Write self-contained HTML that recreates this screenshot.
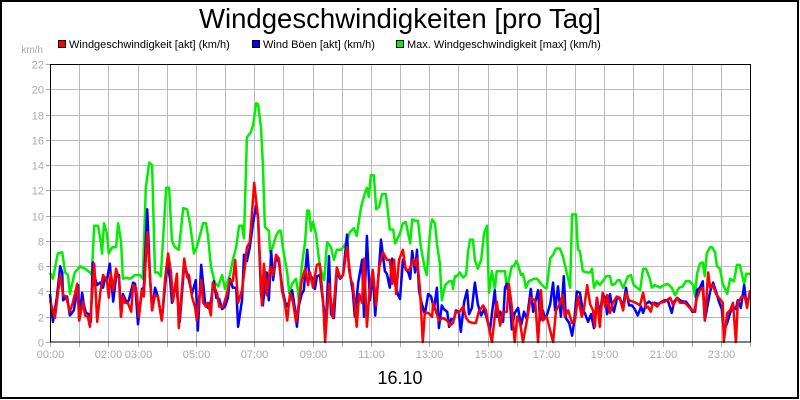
<!DOCTYPE html>
<html><head><meta charset="utf-8"><style>
html,body{margin:0;padding:0;background:#fff}
svg{display:block;font-family:"Liberation Sans",sans-serif}
</style></head><body>
<svg id="chart" width="800" height="400" viewBox="0 0 800 400" xmlns="http://www.w3.org/2000/svg">
<rect x="1" y="1" width="797" height="397" fill="#fff" stroke="#000" stroke-width="2"/>
<text x="400" y="28" text-anchor="middle" font-size="28" textLength="402" lengthAdjust="spacingAndGlyphs" fill="#000">Windgeschwindigkeiten [pro Tag]</text>
<g font-size="11">
 <g><rect x="58.5" y="40.5" width="7" height="7" fill="#f00" stroke="#000"/><text x="69" y="48" fill="#000">Windgeschwindigkeit [akt] (km/h)</text></g>
 <g><rect x="252.5" y="40.5" width="7" height="7" fill="#00f" stroke="#000"/><text x="263" y="48" fill="#000">Wind Böen [akt] (km/h)</text></g>
 <g><rect x="396.5" y="40.5" width="7" height="7" fill="#0e0" stroke="#000"/><text x="407" y="48" fill="#000">Max. Windgeschwindigkeit [max] (km/h)</text></g>
</g>
<text x="43" y="53" text-anchor="end" font-size="10" fill="#aaa">km/h</text>
<g id="grid"></g>
<g id="yaxis"></g>
<g id="xaxis"></g>
<g id="series"></g>
<rect x="50.5" y="64.5" width="700" height="277.5" fill="none" stroke="#000" stroke-width="1"/>
<text x="400" y="384" text-anchor="middle" font-size="18" fill="#000">16.10</text>
</svg>
<script>
const yTicks = [0,2,4,6,8,10,12,14,16,18,20,22];
const xTickLabels = ["00:00","","02:00","03:00","","05:00","","07:00","","09:00","","11:00","","13:00","","15:00","","17:00","","19:00","","21:00","","23:00",""];
const maxTimes = [0,6,16,25,31,37,41,51,62,72,82,86,91,99,105,107,111,117,121,128,136,140,146,150,156,165,175,185,191,197,204,210,216,222,228,239,245,251,257,265,274,282,288,296,302,315,321,325,331,339,346,354,360,370,376,383,389,395,399,405,413,418,424,428,434,438,442,450,453,457,465,471,475,479,488,492,498,506,510,512,518,525,529,533,537,541,547,555,564,570,578,584,590,599,605,611,617,625,631,640,648,652,656,660,666,671,677,683,691,695,699,706,710,720,726,732,741,745,751,757,763,771,775,782,786,792,796,802,806,813,821,827,829,833,837,843,850,856,860,864,870,874,880,887,893,899,903,909,915,919,936,940,946,950,954,959,963,969,973,979,985,996,1002,1010,1018,1022,1029,1035,1041,1049,1055,1066,1070,1074,1082,1086,1090,1096,1105,1111,1115,1119,1125,1131,1144,1152,1156,1162,1168,1172,1179,1189,1195,1201,1214,1220,1226,1234,1238,1244,1255,1263,1271,1279,1286,1294,1302,1308,1316,1323,1327,1331,1337,1343,1347,1351,1358,1362,1368,1372,1378,1384,1393,1399,1407,1413,1419,1428,1432,1440];
const maxValues = [5.5,5.0,7.0,7.1,5.5,5.3,3.8,5.5,6.0,5.8,5.5,5.3,9.2,9.2,7.8,7.0,9.4,8.6,7.0,7.5,7.5,9.4,8.0,5.0,5.1,5.0,5.3,5.3,5.0,12.2,14.2,14.0,5.5,5.5,5.2,12.2,12.2,8.0,7.5,7.3,10.6,10.5,9.4,7.0,7.5,9.4,9.4,8.4,6.0,4.7,4.4,5.3,4.2,5.3,6.5,7.5,9.2,9.2,8.2,16.2,16.6,17.2,18.9,18.8,17.0,14.0,9.1,8.8,7.1,7.4,8.4,8.8,8.8,7.5,5.5,3.9,4.6,5.0,4.1,3.2,6.0,8.0,10.4,10.4,8.8,9.5,8.6,6.0,4.9,7.9,7.5,6.5,7.3,7.3,7.6,8.0,8.7,9.0,8.4,10.7,11.8,12.2,11.5,13.2,13.2,10.5,10.7,11.7,11.7,10.4,8.9,8.9,7.8,8.6,9.4,9.5,7.8,9.7,9.6,9.6,7.5,5.8,5.3,8.8,9.7,9.4,7.8,6.2,3.3,4.5,4.8,4.8,4.2,5.2,5.2,5.5,5.1,5.3,7.2,8.1,8.1,6.5,5.8,6.5,8.6,9.2,3.9,5.6,4.2,5.6,5.6,4.2,5.3,6.0,6.0,6.4,6.1,5.3,5.4,4.3,4.8,5.0,5.0,4.6,4.3,4.3,6.6,6.9,7.4,7.4,6.8,5.0,4.3,10.1,10.1,7.3,7.2,5.6,5.5,5.5,5.8,4.3,4.8,4.5,5.2,5.2,4.5,4.6,4.9,4.9,4.3,5.2,5.3,4.5,4.1,5.8,5.8,5.0,4.3,4.5,4.3,4.5,4.6,4.3,3.7,4.3,4.4,4.8,4.8,4.5,3.6,5.4,6.2,6.3,5.2,7.0,7.5,7.5,7.1,6.0,5.8,4.6,3.8,5.0,4.8,6.1,6.1,4.6,5.4,5.4];
const gustTimes = [0,6,14,21,25,27,35,41,49,58,60,66,70,74,80,84,88,93,97,103,109,113,117,123,130,136,142,146,150,158,162,171,175,181,189,193,200,206,210,216,222,230,237,241,247,251,259,267,276,284,292,300,304,311,319,325,331,337,342,348,354,360,366,370,376,383,387,395,399,405,411,418,424,428,434,438,442,446,450,455,459,465,471,479,486,492,498,504,508,512,518,522,529,533,539,545,549,555,564,568,574,578,584,590,597,603,611,615,623,627,634,642,646,652,658,664,669,677,681,689,693,699,704,710,716,720,726,730,737,741,745,751,755,759,763,771,778,784,790,796,800,806,810,817,821,825,831,835,841,845,852,858,862,868,874,880,887,893,899,905,915,919,926,932,936,940,946,950,956,963,969,975,981,989,994,998,1004,1008,1014,1018,1022,1029,1035,1039,1045,1051,1057,1061,1068,1074,1078,1084,1090,1096,1100,1107,1113,1119,1125,1131,1137,1142,1146,1152,1156,1160,1166,1172,1179,1185,1191,1197,1203,1209,1216,1220,1226,1232,1238,1244,1251,1259,1265,1271,1279,1284,1290,1296,1302,1308,1316,1321,1327,1331,1337,1343,1347,1358,1364,1370,1376,1382,1386,1393,1399,1405,1411,1415,1421,1428,1432,1438];
const gustValues = [3.8,1.6,3.5,6.0,5.5,3.3,3.6,2.1,2.5,4.5,1.7,3.9,2.9,2.3,2.2,1.6,6.3,5.0,4.5,4.7,4.3,5.0,4.9,6.2,3.2,5.2,5.3,2.0,3.8,3.1,3.3,4.7,4.6,1.4,4.2,4.3,10.5,5.0,2.5,4.3,3.6,1.7,4.5,6.2,5.0,3.1,4.8,1.6,6.1,5.2,3.8,4.9,0.9,6.1,3.1,2.7,3.2,4.8,3.5,3.4,2.6,2.8,3.5,5.0,4.3,4.3,1.2,3.3,6.9,6.4,7.5,9.5,10.8,9.8,3.8,2.9,4.5,5.5,3.3,7.2,4.9,6.7,6.3,4.0,2.8,3.2,4.1,2.6,1.2,2.9,3.8,4.1,7.3,5.3,5.1,4.2,5.2,5.3,2.4,1.7,6.8,2.2,1.9,5.5,5.0,5.3,8.5,5.8,4.0,2.0,4.7,6.5,2.0,8.4,3.3,5.5,2.1,5.9,8.1,5.6,5.4,4.3,6.6,4.6,3.7,3.4,6.5,5.9,5.5,5.0,7.2,5.5,7.3,4.1,3.3,2.2,3.8,3.6,2.6,4.3,1.1,2.9,2.6,2.4,1.2,1.8,1.8,2.5,2.4,0.8,3.2,4.1,2.2,2.7,4.7,3.0,2.1,2.6,1.8,0.9,4.1,2.0,2.4,1.6,4.3,4.6,3.4,1.0,2.3,2.7,1.3,2.4,1.8,4.2,2.4,3.1,4.1,1.7,2.5,1.9,2.1,3.0,4.7,2.5,4.4,2.0,5.2,1.9,1.5,0.5,1.5,4.0,3.9,2.5,2.3,1.6,2.2,1.1,3.5,2.2,3.8,3.5,2.2,3.8,2.9,2.4,3.4,3.5,2.8,4.3,2.9,2.9,2.6,2.1,2.8,2.3,3.0,3.2,3.0,3.1,3.0,3.2,3.3,3.3,2.3,3.2,3.5,3.3,3.2,3.2,2.8,2.4,2.4,4.1,4.3,4.8,1.7,4.0,4.7,4.0,3.2,2.6,0.9,1.5,2.3,2.8,2.6,3.3,2.7,4.5,3.2,3.5];
const speedTimes = [0,10,21,27,33,41,47,56,60,68,72,78,82,91,97,103,109,117,121,125,130,136,142,146,150,154,160,167,171,177,183,189,193,200,206,210,216,222,230,237,243,249,253,261,265,272,276,282,286,292,298,302,311,315,321,325,331,335,344,348,356,364,370,376,381,387,395,401,405,411,420,428,436,440,446,453,459,465,471,477,483,488,494,500,506,510,518,525,531,535,541,549,555,562,566,574,582,590,597,603,611,619,623,631,636,642,646,652,658,664,671,677,685,693,699,704,708,712,718,726,732,739,747,751,755,761,767,771,778,786,788,794,800,808,817,823,829,835,841,850,856,862,870,876,882,891,897,901,909,915,919,926,932,940,944,950,956,961,967,973,981,989,998,1004,1010,1014,1022,1029,1035,1041,1047,1055,1059,1066,1074,1080,1086,1094,1098,1105,1111,1117,1121,1125,1131,1137,1142,1146,1152,1158,1166,1172,1179,1185,1191,1199,1205,1214,1220,1226,1230,1236,1240,1249,1255,1265,1276,1282,1290,1296,1306,1316,1325,1331,1337,1343,1347,1354,1358,1364,1370,1376,1384,1386,1393,1399,1405,1411,1415,1423,1430,1434,1440];
const speedValues = [3.3,1.9,5.3,3.7,3.6,2.4,3.1,4.6,1.7,3.2,2.1,2.0,1.2,6.2,1.6,3.8,5.3,4.9,3.5,5.5,4.1,5.8,5.0,2.0,3.6,3.1,3.1,2.4,4.5,4.3,2.0,4.1,3.6,8.7,5.1,2.5,3.7,3.6,1.7,5.1,7.0,5.5,3.2,5.4,1.1,4.5,6.6,5.1,5.3,3.6,2.8,1.7,4.9,3.1,2.8,3.1,2.1,4.7,3.8,2.8,2.8,3.8,4.9,4.8,6.5,3.1,4.1,5.9,7.5,7.9,12.6,9.8,2.9,6.2,3.7,5.9,5.3,6.9,6.6,4.1,3.1,1.7,3.9,3.1,1.6,2.5,4.9,5.8,4.5,5.5,4.3,6.1,6.2,3.1,0,4.6,1.9,5.9,5.1,5.3,7.5,4.9,4.6,1.2,3.8,3.1,6.6,1.2,4.3,5.7,2.9,5.9,7.1,6.5,6.5,4.6,6.5,3.8,6.5,7.3,5.7,5.7,6.5,6.1,6.6,4.3,0,2.3,2.3,2.0,3.1,2.4,1.7,1.9,1.7,1.3,1.5,2.4,2.3,2.8,1.9,1.6,1.5,1.5,2.4,2.9,2.5,1.5,0,2.0,3.2,1.3,2.4,2.4,4.6,2.8,0,2.0,1.5,0,1.7,3.5,3.3,0,4.1,1.7,2.0,0.9,0,2.5,2.9,3.7,2.0,2.5,1.5,1.7,3.6,2.0,2.5,4.5,3.0,2.5,1.2,3.5,1.2,3.9,2.8,3.7,2.3,3.1,3.6,3.5,2.5,3.9,3.3,3.2,3.1,2.9,3.9,2.7,2.8,2.4,3.1,2.8,3.1,3.2,3.5,2.9,3.5,3.1,3.1,2.7,2.4,3.5,4.1,4.3,1.7,5.5,4.3,4.5,3.8,3.5,3.1,0,2.3,2.5,3.1,0,3.1,3.6,3.5,2.7,4.1];

const NS = "http://www.w3.org/2000/svg";
const PX0 = 50, PX1 = 750, PY0 = 342, PY1 = 64, YMAX = 22, TMAX = 1440;
function xScale(m){ return PX0 + (m / TMAX) * (PX1 - PX0); }
function yScale(v){ return PY0 - (v / YMAX) * (PY0 - PY1); }
function mk(tag, attrs){ const e = document.createElementNS(NS, tag); for (const k in attrs) e.setAttribute(k, attrs[k]); return e; }

const grid = document.getElementById('grid');
const yaxis = document.getElementById('yaxis');
const xaxis = document.getElementById('xaxis');
yTicks.forEach(v => {
  const y = Math.round(yScale(v)) + 0.5;
  if (v > 0 && v < YMAX) {
    const gl = mk('line', {x1: PX0, x2: PX1, y1: y, y2: y, stroke: '#bbb', 'stroke-width': 1});
    
    
    grid.appendChild(gl);
  }
  const tk = mk('line', {x1: 46, x2: PX0, y1: y, y2: y, stroke: '#aaa', 'stroke-width': 1});
  
  
  yaxis.appendChild(tk);
  const t = mk('text', {x: 44, y: y + 4, 'text-anchor': 'end', 'font-size': 11, fill: '#aaa'});
  t.textContent = v;
  
  
  yaxis.appendChild(t);
});
xTickLabels.forEach((lab, i) => {
  const x = Math.round(xScale(i * 60)) + 0.5;
  if (i > 0 && i < 24) {
    const gl = mk('line', {x1: x, x2: x, y1: PY1, y2: PY0, stroke: '#bbb', 'stroke-width': 1});
    
    
    grid.appendChild(gl);
  }
  const tk = mk('line', {x1: x, x2: x, y1: PY0, y2: PY0 + 5, stroke: '#aaa', 'stroke-width': 1});
  
  
  xaxis.appendChild(tk);
  if (lab) {
    const t = mk('text', {x: x, y: 358, 'text-anchor': 'middle', 'font-size': 11, fill: '#aaa'});
    t.textContent = lab;
    
    
    xaxis.appendChild(t);
  }
});

const series = document.getElementById('series');
function drawLine(times, values, color, name){
  const pts = times.map((m, i) => xScale(m).toFixed(1) + ',' + yScale(values[i]).toFixed(1)).join(' ');
  const pl = mk('polyline', {points: pts, fill: 'none', stroke: color, 'stroke-width': 2.5, 'stroke-linejoin': 'round'});
  
  
  series.appendChild(pl);
}
drawLine(maxTimes, maxValues, '#00ee00', 'max-speed-line');
drawLine(gustTimes, gustValues, '#0000ff', 'gust-line');
drawLine(speedTimes, speedValues, '#ff0000', 'speed-line');
</script>
</body></html>
